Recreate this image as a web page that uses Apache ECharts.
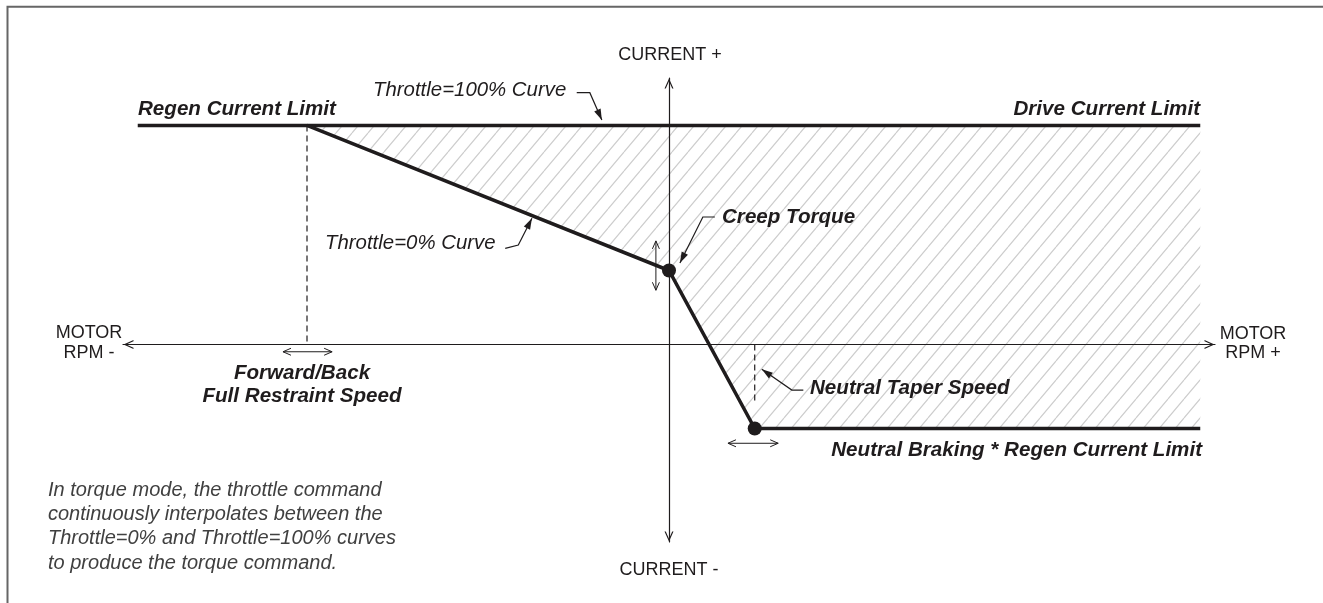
<!DOCTYPE html>
<html>
<head>
<meta charset="utf-8">
<title>Torque mode throttle map</title>
<script src="https://cdn.jsdelivr.net/npm/echarts@6/dist/echarts.min.js"></script>
<style>
    html, body { margin: 0; padding: 0; background: #fff; }
    #chart { width: 1323px; height: 603px; }
</style>
</head>
<body>
<div id="chart"></div>
<script>
    // axis spans (motor rpm, current), arbitrary units
    const rpmRange = [-100, 100];
    const currentRange = [-200, 270];

    // curves [rpm, current]
    const throttleMaxCurve = [[-97.3, 222], [97.3, 222]];
    const throttleZeroCurve = [[-66.3, 222], [0, 75], [15.7, -85], [97.3, -85]];
    const curveKnots = [[0, 75], [15.7, -85]];
    const hatchRegion = [[-66.3, 222], [97.3, 222], [97.3, -85], [15.7, -85], [0, 75]];

    // guide lines
    const restraintGuide = [[-66.3, 222], [-66.3, 0]];
    const taperGuide = [[15.7, 0], [15.7, -58]];

    // adjustment arrows (open heads both ends)
    const restraintArrow = [[-70.7, -7.3], [-61.7, -7.3]];
    const taperArrow = [[10.8, -100], [20.0, -100]];
    const creepArrow = [[-2.4, 105], [-2.4, 55]];

    // leader lines, last point is the arrow tip
    const leaderMax = [[-16.9, 255.1], [-14.5, 255.1], [-12.3, 227.4]];
    const leaderZero = [[-30.0, 97.5], [-27.6, 100.8], [-25.1, 127.9]];
    const leaderCreep = [[8.4, 129.2], [6.2, 129.2], [2.0, 82.6]];
    const leaderTaper = [[24.6, -46.1], [22.5, -46.1], [17.0, -25.1]];

    const INK = '#1f1c1d';
    const FONT = "'Liberation Sans', Arial, Helvetica, sans-serif";
    const CHEVRON = 'path://M0,10L4.5,0L9,10L7.7,10L4.5,2.8L1.3,10Z';

    function makeHatch(){
        let w = 16, h = 19;
        let c = document.createElement('canvas');
        c.width = w; c.height = h;
        let g = c.getContext('2d');
        g.strokeStyle = '#cdcdcd';
        g.lineWidth = 1.2;
        g.beginPath();
        // one diagonal per tile, plus the neighbours so tiles join
        for (let k = -1; k <= 1; k++){
            g.moveTo(k * w, h);
            g.lineTo(k * w + w, 0);
        }
        g.stroke();
        return c;
    }
    const hatch = makeHatch();

    // arrow head points at tip, coming from "from" (pixels)
    function headPoints(tip, from, len, wid){
        let dx = tip[0] - from[0], dy = tip[1] - from[1];
        let d = Math.hypot(dx, dy) || 1;
        let ux = dx / d, uy = dy / d;
        let bx = tip[0] - ux * len, by = tip[1] - uy * len;
        return [[bx - uy * wid / 2, by + ux * wid / 2], tip, [bx + uy * wid / 2, by - ux * wid / 2]];
    }

    function text(x, y, str, font, align, extra){
        return {
            type: 'text', x: x, y: y, silent: true, z: 100,
            style: Object.assign({
                text: str, font: font, fill: INK,
                align: align || 'left', verticalAlign: 'middle'
            }, extra || {})
        };
    }
    const boldItalic = 'italic bold 20.6px ' + FONT;
    const italic = 'italic 20.4px ' + FONT;
    const plain = '18px ' + FONT;

    const axisLine = {
        show: true,
        onZero: true,
        symbol: [CHEVRON, CHEVRON],
        symbolSize: [9, 11],
        symbolOffset: [5.5, -5.5],
        lineStyle: { color: INK, width: 1.2 }
    };

    let chart = echarts.init(document.getElementById('chart'));
    let option = {
        animation: false,
        grid: { left: 123, right: 108, top: 78, bottom: 61 },
        xAxis: {
            type: 'value', min: rpmRange[0], max: rpmRange[1], z: 3,
            axisLine: axisLine,
            axisTick: { show: false }, axisLabel: { show: false }, splitLine: { show: false }
        },
        yAxis: {
            type: 'value', min: currentRange[0], max: currentRange[1], z: 3,
            axisLine: axisLine,
            axisTick: { show: false }, axisLabel: { show: false }, splitLine: { show: false }
        },
        series: [
            {
                name: 'hatch',
                type: 'custom',
                data: [[0, 0]],
                z: 1,
                silent: true,
                renderItem: function (params, api){
                    let pts = hatchRegion.map(p => api.coord(p));
                    return {
                        type: 'polygon',
                        shape: { points: pts },
                        style: { fill: { image: hatch, repeat: 'repeat' }, stroke: null }
                    };
                }
            },
            {
                name: 'restraint guide', type: 'line', data: restraintGuide, symbol: 'none', silent: true, z: 4,
                lineStyle: { color: INK, width: 1.2, type: [6, 4] }
            },
            {
                name: 'taper guide', type: 'line', data: taperGuide, symbol: 'none', silent: true, z: 4,
                lineStyle: { color: INK, width: 1.2, type: [6, 4] }
            },
            {
                name: 'Throttle=100%', type: 'line', data: throttleMaxCurve, symbol: 'none', silent: true, z: 5,
                lineStyle: { color: INK, width: 3.5 }
            },
            {
                name: 'Throttle=0%', type: 'line', data: throttleZeroCurve, symbol: 'none', silent: true, z: 5,
                lineStyle: { color: INK, width: 3.5, join: 'miter' }
            },
            {
                name: 'knots', type: 'scatter', data: curveKnots, symbolSize: 14, silent: true, z: 6,
                itemStyle: { color: INK, opacity: 1 }
            },
            {
                name: 'arrows',
                type: 'custom',
                data: [[0, 0]],
                z: 6,
                silent: true,
                renderItem: function (params, api){
                    let children = [];
                    [restraintArrow, taperArrow, creepArrow].forEach(seg => {
                        let a = api.coord(seg[0]), b = api.coord(seg[1]);
                        let st = { stroke: INK, fill: null, lineWidth: 1 };
                        children.push({ type: 'line', shape: { x1: a[0], y1: a[1], x2: b[0], y2: b[1] }, style: st });
                        children.push({ type: 'polyline', shape: { points: headPoints(b, a, 8, 7) }, style: st });
                        children.push({ type: 'polyline', shape: { points: headPoints(a, b, 8, 7) }, style: st });
                    });
                    [leaderMax, leaderZero, leaderCreep, leaderTaper].forEach(path => {
                        let pts = path.map(p => api.coord(p));
                        let n = pts.length;
                        children.push({ type: 'polyline', shape: { points: pts }, style: { stroke: INK, fill: null, lineWidth: 1.2 } });
                        children.push({ type: 'polygon', shape: { points: headPoints(pts[n - 1], pts[n - 2], 11, 7) }, style: { fill: INK } });
                    });
                    return { type: 'group', children: children };
                }
            }
        ],
        graphic: [
            {
                type: 'rect', silent: true, z: 100,
                shape: { x: 7.5, y: 6.7, width: 1400, height: 700 },
                style: { fill: null, stroke: '#666', lineWidth: 2 }
            },
            text(670, 55, 'CURRENT +', plain, 'center'),
            text(669, 570, 'CURRENT -', plain, 'center'),
            text(89, 343, 'MOTOR\nRPM -', plain, 'center', { lineHeight: 19.5 }),
            text(1253, 344, 'MOTOR\nRPM +', plain, 'center', { lineHeight: 19 }),
            text(138, 109, 'Regen Current Limit', boldItalic, 'left'),
            text(1200, 109, 'Drive Current Limit', boldItalic, 'right'),
            text(373, 90, 'Throttle=100% Curve', italic, 'left'),
            text(325, 243.5, 'Throttle=0% Curve', italic, 'left'),
            text(722, 217, 'Creep Torque', boldItalic, 'left'),
            text(810, 388, 'Neutral Taper Speed', boldItalic, 'left'),
            text(1202, 450, 'Neutral Braking * Regen Current Limit', boldItalic, 'right'),
            text(302, 384.5, 'Forward/Back\nFull Restraint Speed', boldItalic, 'center', { lineHeight: 23 }),
            text(48, 526.5,
                'In torque mode, the throttle command\ncontinuously interpolates between the\nThrottle=0% and Throttle=100% curves\nto produce the torque command.',
                'italic 20px ' + FONT, 'left', { lineHeight: 24.3, fill: '#404040' })
        ]
    };
    chart.setOption(option, true);
</script>
</body>
</html>
